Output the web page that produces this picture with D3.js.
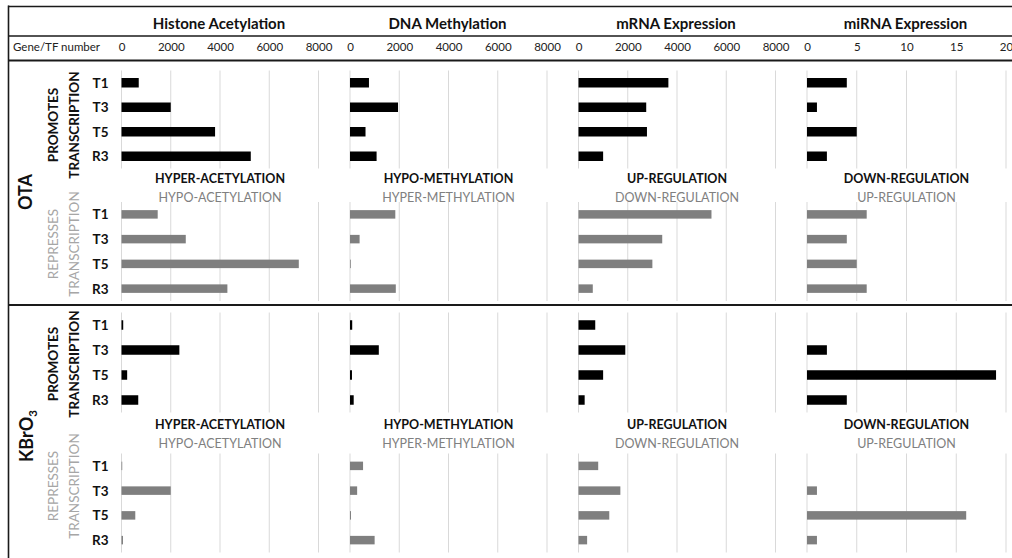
<!DOCTYPE html>
<html>
<head>
<meta charset="utf-8">
<script src="https://cdn.jsdelivr.net/npm/d3@7/dist/d3.min.js"></script>
<style>
  html, body { margin: 0; padding: 0; background: #fff; }
  svg { display: block; font-family: Lato, "Open Sans", sans-serif; }
</style>
</head>
<body>
<svg id="chart" width="1012" height="558"></svg>
<script>
// ---- data ----
const panelTitles = ["Histone Acetylation", "DNA Methylation", "mRNA Expression", "miRNA Expression"];
const timepoints = ["T1", "T3", "T5", "R3"];
const treatments = ["OTA", "KBrO3"];
const promoteLabels = ["HYPER-ACETYLATION", "HYPO-METHYLATION", "UP-REGULATION", "DOWN-REGULATION"];
const repressLabels = ["HYPO-ACETYLATION", "HYPER-METHYLATION", "DOWN-REGULATION", "UP-REGULATION"];
const geneTicks = [0, 2000, 4000, 6000, 8000];
const mirnaTicks = [0, 5, 10, 15, 20];

// gene / TF counts per panel, in the order T1, T3, T5, R3
const otaPromotes = [
  [700, 2000, 3800, 5250],
  [770, 1950, 630, 1080],
  [3650, 2750, 2780, 1000],
  [4, 1, 5, 2]
];
const otaRepresses = [
  [1470, 2610, 7200, 4300],
  [1840, 390, 30, 1860],
  [5400, 3400, 3000, 580],
  [6, 4, 5, 6]
];
const kbrPromotes = [
  [70, 2350, 230, 680],
  [90, 1170, 80, 150],
  [680, 1900, 1000, 250],
  [0, 2, 19, 4]
];
const kbrRepresses = [
  [30, 2000, 560, 60],
  [530, 290, 40, 1000],
  [800, 1700, 1250, 350],
  [0, 1, 16, 1]
];

// ---- layout ----
const svg = d3.select("#chart");
const W = 1012, H = 558;
const panelX0 = 121.5, panelStep = 228.5, panelW = 197;
const darkLine = "#1a1a1a";
const barBlack = "#000000";
const barGray = "#7f7f7f";
const gridColor = "#d9d9d9";

const xScales = panelTitles.map((t, i) => {
  const x0 = panelX0 + i * panelStep;
  const dom = i === 3 ? [0, 20] : [0, 8000];
  return d3.scaleLinear().domain(dom).range([x0, x0 + (i === 3 ? 199 : panelW)]);
});
const tickSets = panelTitles.map((t, i) => i === 3 ? mirnaTicks : geneTicks);

// vertical extents of each block of bars
const blocks = [
  { data: otaPromotes,  range: [70.5, 168.5], color: barBlack, barH: 9.5 },
  { data: otaRepresses, range: [202, 301],    color: barGray,  barH: 8.5 },
  { data: kbrPromotes,  range: [312.5, 412.5], color: barBlack, barH: 9.5 },
  { data: kbrRepresses, range: [453.5, 552.5], color: barGray,  barH: 8.5 }
];

// ---- header ----
const header = svg.append("g");
panelTitles.forEach((t, i) => {
  const xs = xScales[i];
  header.append("text")
    .attr("x", (xs.range()[0] + xs.range()[1]) / 2 - 1)
    .attr("y", 29)
    .attr("text-anchor", "middle")
    .attr("font-size", 15)
    .attr("font-weight", 700)
    .attr("fill", "#111")
    .text(t);
});

header.append("text")
  .attr("x", 13).attr("y", 51)
  .attr("font-size", 11.5)
  .attr("fill", "#222")
  .text("Gene/TF number");

// tick labels via d3 axes
xScales.forEach((xs, i) => {
  const ax = d3.axisTop(xs).tickValues(tickSets[i]).tickSize(0).tickPadding(0)
    .tickFormat(d3.format("d"));
  const g = svg.append("g").attr("transform", "translate(0,51)").call(ax);
  g.select(".domain").remove();
  g.selectAll("text")
    .attr("font-size", 11.5)
    .attr("font-family", "Lato, 'Open Sans', sans-serif")
    .attr("fill", "#222")
    .attr("dy", 0);
});

// ---- bar blocks ----
blocks.forEach(b => {
  const y = d3.scaleBand().domain(timepoints).range(b.range);
  xScales.forEach((xs, i) => {
    const g = svg.append("g");
    // vertical gridlines
    g.selectAll("line.grid").data(tickSets[i]).join("line")
      .attr("x1", d => xs(d)).attr("x2", d => xs(d))
      .attr("y1", b.range[0]).attr("y2", b.range[1])
      .attr("stroke", gridColor).attr("stroke-width", 1);
    g.selectAll("rect").data(b.data[i].map((v, k) => ({ v, k }))).join("rect")
      .attr("x", xs(0))
      .attr("y", d => y(timepoints[d.k]) + (y.bandwidth() - b.barH) / 2)
      .attr("width", d => xs(d.v) - xs(0))
      .attr("height", b.barH)
      .attr("fill", b.color);
  });
  // timepoint labels
  svg.append("g").selectAll("text").data(timepoints).join("text")
    .attr("x", 108.5)
    .attr("y", d => y(d) + y.bandwidth() / 2 + 5)
    .attr("text-anchor", "end")
    .attr("font-size", 13.5)
    .attr("font-weight", 700)
    .attr("fill", "#111")
    .text(d => d);
});

// ---- direction labels between the two blocks of each treatment ----
const labelRows = [[178.5, 197], [424.5, 443.5]];
labelRows.forEach(([yTop, yBot]) => {
  xScales.forEach((xs, i) => {
    const cx = (xs.range()[0] + xs.range()[1]) / 2;
    svg.append("text").attr("x", cx).attr("y", yTop + 4.5)
      .attr("text-anchor", "middle").attr("font-size", 12.5).attr("font-weight", 700)
      .attr("fill", "#111").text(promoteLabels[i]);
    svg.append("text").attr("x", cx).attr("y", yBot + 4.5)
      .attr("text-anchor", "middle").attr("font-size", 12.5).attr("font-weight", 400)
      .attr("fill", "#808080").text(repressLabels[i]);
  });
});

// ---- rotated row-group labels ----
function rotated(lines, cx, cy, opts) {
  const g = svg.append("g").attr("transform", `translate(${cx},${cy}) rotate(-90)`);
  lines.forEach((s, k) => {
    g.append("text")
      .attr("x", 0)
      .attr("y", (k - (lines.length - 1) / 2) * opts.lh + opts.size * 0.36)
      .attr("text-anchor", "middle")
      .attr("font-size", opts.size)
      .attr("font-weight", opts.weight)
      .attr("fill", opts.color)
      .text(s);
  });
  return g;
}
const promoteOpts = { size: 13.5, weight: 700, color: "#111", lh: 21 };
const repressOpts = { size: 13.5, weight: 400, color: "#a6a6a6", lh: 21 };
rotated(["PROMOTES", "TRANSCRIPTION"], 63.5, 125, promoteOpts);
rotated(["REPRESSES", "TRANSCRIPTION"], 63.5, 244, repressOpts);
rotated(["PROMOTES", "TRANSCRIPTION"], 63.5, 364, promoteOpts);
rotated(["REPRESSES", "TRANSCRIPTION"], 63.5, 486, repressOpts);

// treatment names
const otaG = svg.append("g").attr("transform", "translate(25,192) rotate(-90)");
otaG.append("text").attr("text-anchor", "middle").attr("y", 6.5)
  .attr("font-size", 18).attr("font-weight", 700).attr("fill", "#111").text(treatments[0]);
const kbrG = svg.append("g").attr("transform", "translate(26,436) rotate(-90)");
const kt = kbrG.append("text").attr("text-anchor", "middle").attr("y", 6.5)
  .attr("font-size", 18).attr("font-weight", 700).attr("fill", "#111");
kt.append("tspan").text(treatments[1].slice(0, 4));
kt.append("tspan").attr("font-size", 11.5).attr("dy", 4).text(treatments[1].slice(4));

// ---- table rules ----
const rules = svg.append("g").attr("stroke", darkLine);
rules.append("line").attr("x1", 8).attr("x2", W).attr("y1", 6.5).attr("y2", 6.5).attr("stroke-width", 1.6);
rules.append("line").attr("x1", 8).attr("x2", W).attr("y1", 36).attr("y2", 36).attr("stroke-width", 1.6);
rules.append("line").attr("x1", 8).attr("x2", W).attr("y1", 60.5).attr("y2", 60.5).attr("stroke-width", 2);
rules.append("line").attr("x1", 8).attr("x2", W).attr("y1", 305).attr("y2", 305).attr("stroke-width", 2);
rules.append("line").attr("x1", 8.5).attr("x2", 8.5).attr("y1", 5.5).attr("y2", H).attr("stroke-width", 1.6);
</script>
</body>
</html>
